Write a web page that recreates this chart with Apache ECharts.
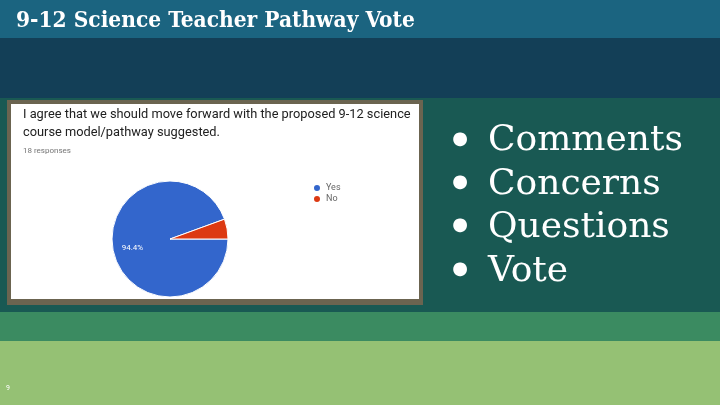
<!doctype html>
<html lang="en">
<head>
    <meta charset="utf-8">
    <title>9-12 Science Teacher Pathway Vote</title>
    <script src="https://cdn.jsdelivr.net/npm/echarts@6/dist/echarts.min.js"></script>
    <style type="text/css">
        body { margin: 0; }
        #chart { width: 720px; height: 405px; }
    </style>
</head>
<body>
    <div id="chart"></div>
    <script>
        // survey answers
        let answers = ['Yes', 'No'];
        let counts = [17, 1];
        let answerColors = ['#3366cc', '#dc3912'];
        let bullets = ['Comments', 'Concerns', 'Questions', 'Vote'];

        let slideTitle = '9-12 Science Teacher Pathway Vote';
        let question = 'I agree that we should move forward with the proposed 9-12 science\ncourse model/pathway suggested.';
        let responses = counts.reduce(function (a, b) { return a + b; }, 0);

        function draw_slide() {
            let myChart = echarts.init(document.getElementById('chart'));

            let pieData = [];
            for (let i = 0; i < answers.length; ++i) {
                pieData.push({ name: answers[i], value: counts[i], itemStyle: { color: answerColors[i] } });
            }

            let bands = [
                [0, 38, '#1b6480'],
                [38, 98, '#133f57'],
                [98, 312, '#195953'],
                [312, 341, '#3b8b61'],
                [341, 405, '#95c174']
            ];
            let graphics = [];
            bands.forEach(function (b) {
                graphics.push({ type: 'rect', z: -10, shape: { x: 0, y: b[0], width: 720, height: b[1] - b[0] }, style: { fill: b[2] } });
            });
            // frame around the form screenshot
            graphics.push({ type: 'rect', z: -9, shape: { x: 7, y: 100, width: 416, height: 205 }, style: { fill: '#6b6450' } });
            graphics.push({ type: 'rect', z: -8, shape: { x: 11, y: 104, width: 408, height: 195 }, style: { fill: '#ffffff' } });

            graphics.push({
                type: 'text', x: 16, y: 21,
                style: { text: slideTitle, fill: '#ffffff', font: 'bold 22.5px "DejaVu Serif Condensed"', verticalAlign: 'middle' }
            });
            bullets.forEach(function (t, i) {
                let y = 139 + i * 43.4;
                graphics.push({
                    type: 'text', x: 460, y: y,
                    style: { text: '\u25CF', fill: '#ffffff', font: '18px "DejaVu Sans"', align: 'center', verticalAlign: 'middle' }
                });
                graphics.push({
                    type: 'text', x: 488, y: y + 2,
                    style: { text: t, fill: '#ffffff', font: '36px "DejaVu Serif"', verticalAlign: 'middle' }
                });
            });
            graphics.push({
                type: 'text', left: 6, top: 385,
                style: { text: '9', fill: '#ffffff', font: '7px Roboto' }
            });

            let option = {
                animation: false,
                graphic: graphics,
                title: {
                    text: question,
                    subtext: responses + ' responses',
                    left: 18,
                    top: 101,
                    itemGap: 5,
                    textStyle: { fontFamily: 'Roboto', fontSize: 12.8, fontWeight: 'normal', color: '#212121', lineHeight: 18 },
                    subtextStyle: { fontFamily: 'Roboto', fontSize: 8, color: '#757575' }
                },
                legend: {
                    orient: 'vertical',
                    left: 307,
                    top: 178,
                    icon: 'circle',
                    itemWidth: 8,
                    itemHeight: 8,
                    itemGap: 1,
                    textStyle: { fontFamily: 'Roboto', fontSize: 9, color: '#666666' },
                    data: answers
                },
                series: [{
                    type: 'pie',
                    center: [170, 239],
                    radius: 58,
                    startAngle: 0,
                    clockwise: true,
                    itemStyle: { borderColor: '#ffffff', borderWidth: 1 },
                    label: {
                        show: true,
                        position: 'inside',
                        fontFamily: 'Roboto',
                        fontSize: 8,
                        color: '#ffffff',
                        offset: [-6, 3],
                        formatter: function (p) {
                            return p.percent > 10 ? p.percent.toFixed(1) + '%' : '';
                        }
                    },
                    labelLine: { show: false },
                    data: pieData
                }]
            };
            myChart.setOption(option, true);
        }

        draw_slide();
    </script>
</body>
</html>
